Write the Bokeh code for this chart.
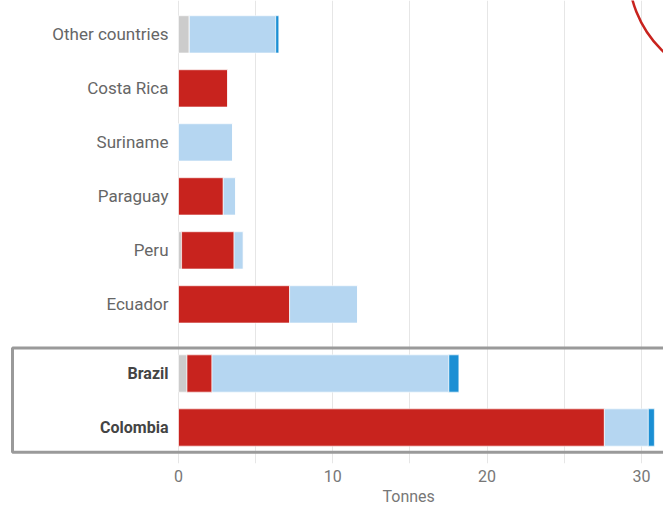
from bokeh.plotting import figure
from bokeh.models import Range1d, FixedTicker, Title, ColumnDataSource
from bokeh.core.properties import value
from bokeh.embed import file_html
from bokeh.resources import INLINE

# ---- data (tonnes) ----
countries = ["Colombia", "Brazil", "Ecuador", "Peru", "Paraguay", "Suriname", "Costa Rica", "Other countries"]
highlight = [True, True, False, False, False, False, False, False]
seg_grey = [0.0, 0.55, 0.0, 0.2, 0.0, 0.0, 0.0, 0.7]
seg_red = [27.6, 1.62, 7.2, 3.4, 2.9, 0.0, 3.2, 0.0]
seg_light = [2.85, 15.35, 4.4, 0.6, 0.8, 3.5, 0.0, 5.6]
seg_blue = [0.39, 0.65, 0.0, 0.0, 0.0, 0.0, 0.0, 0.2]
x_ticks = [0, 10, 20, 30]
grid_ticks = [0, 5, 10, 15, 20, 25, 30]
x_title = "Tonnes"

# row positions: highlighted rows at bottom, a gap, then the others
GAP = 0.28
ypos = []
for i, h in enumerate(highlight):
    ypos.append(i + (0 if h else GAP))

colors = ["#cccccc", "#c8231e", "#b5d6f1", "#1b8fd4"]
keys = ["grey", "red", "light", "blue"]

src = ColumnDataSource(dict(
    y=ypos, country=countries,
    grey=seg_grey, red=seg_red, light=seg_light, blue=seg_blue,
))

PX_PER_UNIT = 15.43
x0_px = 178
W, H = 663, 506
x_start = -x0_px / PX_PER_UNIT
x_end = (W - x0_px) / PX_PER_UNIT
ROW_PX = 54
base_px = 427
frame_bottom = 463
y_top = base_px / ROW_PX
y_bot = (base_px - frame_bottom) / ROW_PX

p = figure(width=W, height=H, output_backend="svg", toolbar_location=None,
           x_range=Range1d(x_start, x_end), y_range=Range1d(y_bot, y_top),
           min_border_left=0, min_border_right=0, min_border_top=0,
           min_border_bottom=H - frame_bottom)
p.outline_line_color = None
p.background_fill_color = "white"
p.border_fill_color = "white"

p.hbar_stack(keys, y="y", height=0.69, color=colors, source=src,
             line_color="white", line_width=0.6)

# category labels
normal = [i for i, h in enumerate(highlight) if not h]
bold = [i for i, h in enumerate(highlight) if h]
src_n = ColumnDataSource(dict(x=[0] * len(normal), y=[ypos[i] for i in normal],
                              t=[countries[i] for i in normal]))
src_b = ColumnDataSource(dict(x=[0] * len(bold), y=[ypos[i] for i in bold],
                              t=[countries[i] for i in bold]))
p.text(x="x", y="y", text="t", source=src_n, x_offset=-10, text_align="right",
       text_baseline="middle", text_font=value("Roboto"), text_font_size="17px",
       text_color="#666666")
p.text(x="x", y="y", text="t", source=src_b, x_offset=-10, text_align="right",
       text_baseline="middle", text_font=value("Roboto"), text_font_size="16px",
       text_font_style="bold", text_color="#444444")

# highlight box around Brazil & Colombia
yb = [ypos[i] for i in bold]
p.quad(left=[x_start + 12 / PX_PER_UNIT], right=[x_end + 1], top=[max(yb) + 0.47],
       bottom=[min(yb) - 0.46], fill_color=None, line_color="#9a9a9a", line_width=3)

# decorative logo ring (top right)
p.scatter(x=[(740 - x0_px) / PX_PER_UNIT], y=[(base_px + 30) / ROW_PX], size=224,
          marker="circle", fill_color=None, line_color="#c8231e", line_width=2.5)

# axes / grid
p.yaxis.visible = False
p.ygrid.grid_line_color = None
p.xgrid.ticker = FixedTicker(ticks=grid_ticks)
p.xgrid.grid_line_color = "#e6e6e6"
p.xgrid.grid_line_width = 1
p.xaxis.ticker = FixedTicker(ticks=x_ticks)
p.xaxis.axis_line_color = None
p.xaxis.major_tick_line_color = None
p.xaxis.minor_tick_line_color = None
p.xaxis.major_tick_out = 0
p.xaxis.major_tick_in = 0
p.xaxis.major_label_text_font = "Roboto"
p.xaxis.major_label_text_font_size = "16px"
p.xaxis.major_label_text_color = "#777777"
p.xaxis.major_label_standoff = 6

p.add_layout(Title(text=x_title, align="left", offset=382, text_font="Roboto",
                   text_font_size="16px", text_font_style="normal",
                   text_color="#777777", standoff=0), "below")

open("out.html", "w").write(file_html(p, INLINE))
